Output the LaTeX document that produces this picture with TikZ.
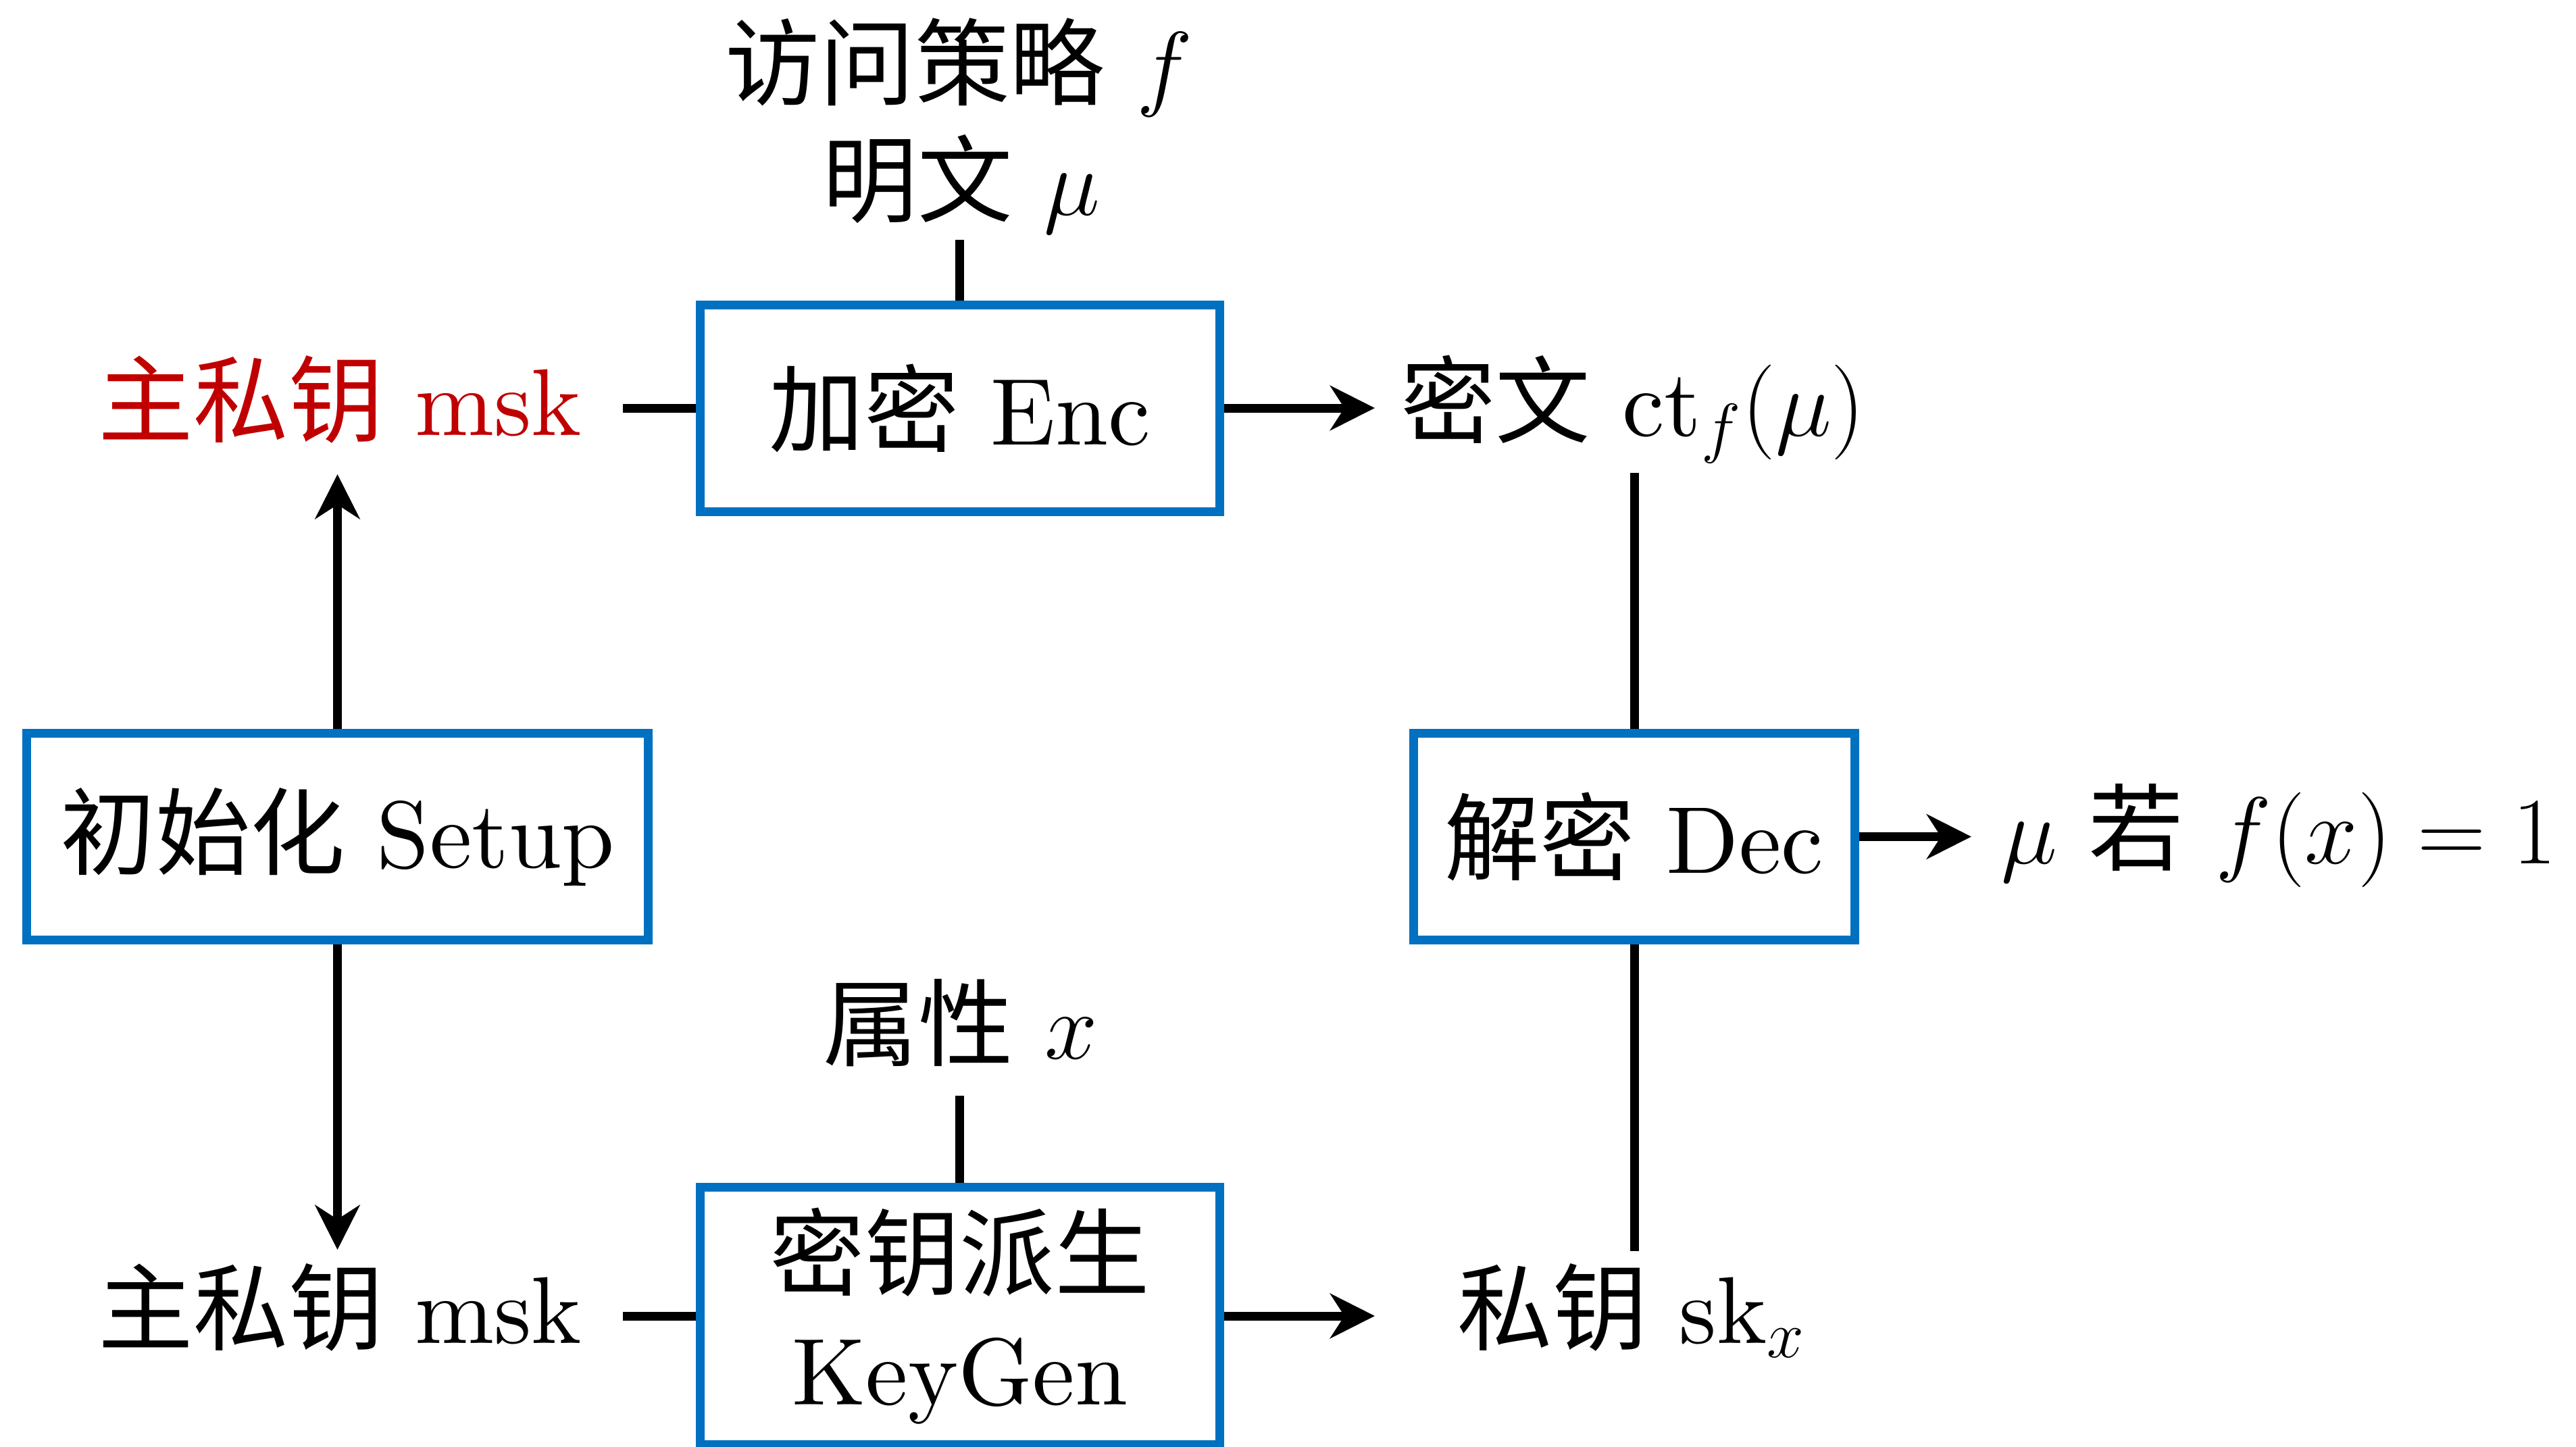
\RequirePackage{fix-cm}
\documentclass[tikz,border=0pt]{standalone}
\usepackage{fontspec}
\setmainfont{lmroman10-regular.otf}
\newfontfamily\cjk{Noto Sans CJK SC}
\usetikzlibrary{arrows.meta}
\definecolor{boxblue}{RGB}{0,112,192}
\definecolor{mskred}{RGB}{192,0,0}
\newcommand{\zh}[1]{{\cjk #1}}
\begin{document}
\begin{tikzpicture}[
  every node/.style={font=\fontsize{40}{49}\selectfont, inner sep=0pt},
  proc/.style={draw=boxblue, line width=0.13cm, inner sep=0pt, align=center},
  lbl/.style={anchor=base},
  conn/.style={line width=0.13cm},
  arr/.style={conn, -{Stealth[length=6.6mm,width=6.6mm,inset=2.1mm]}}
]
\path[use as bounding box] (0,0) rectangle (38.13,-21.41);

% boxes
\node[proc, minimum width=7.685cm, minimum height=3.06cm] (enc) at (14.2075,-6.04) {\zh{加密} Enc};
\node[proc, minimum width=9.2cm, minimum height=3.06cm] (setup) at (4.995,-12.385) {\zh{初始化} Setup};
\node[proc, minimum width=6.53cm, minimum height=3.06cm] (dec) at (24.19,-12.385) {\zh{解密} Dec};
\node[proc, minimum width=7.685cm, minimum height=3.815cm] (keygen) at (14.2075,-19.48) {\zh{密钥派生}\\KeyGen};

% labels
\node[lbl] (pol) at (14.19,-1.45) {\zh{访问策略} $f$};
\node[lbl] (pt) at (14.23,-3.18) {\zh{明文} $\mu$};
\node[lbl, text=mskred] (mskA) at (5.035,-6.44) {\zh{主私钥} msk};
\node[lbl] (ct) at (24.17,-6.45) {\zh{密文} $\mathrm{ct}_f(\mu)$};
\node[lbl] (res) at (33.73,-12.78) {$\mu$ \zh{若} $f(x) = 1$};
\node[lbl] (attr) at (14.22,-15.67) {\zh{属性} $x$};
\node[lbl] (mskB) at (5.035,-19.88) {\zh{主私钥} msk};
\node[lbl] (sk) at (24.15,-19.88) {\zh{私钥} $\mathrm{sk}_x$};

% connector end points
\coordinate (ptEnd) at (14.2075,-3.55);
\coordinate (mskAEnd) at (9.22,-6.04);
\coordinate (upTip) at (4.995,-7.02);
\coordinate (encTip) at (20.35,-6.04);
\coordinate (ctEnd) at (24.19,-7.00);
\coordinate (downTip) at (4.995,-18.50);
\coordinate (mskBEnd) at (9.22,-19.48);
\coordinate (attrEnd) at (14.2075,-16.22);
\coordinate (kgTip) at (20.35,-19.48);
\coordinate (skEnd) at (24.19,-18.52);
\coordinate (decTip) at (29.18,-12.385);

% connectors
\draw[conn] (ptEnd) -- (enc.north);
\draw[conn] (mskAEnd) -- (enc.west);
\draw[arr] (setup.north) -- (upTip);
\draw[arr] (enc.east) -- (encTip);
\draw[conn] (ctEnd) -- (dec.north);
\draw[arr] (setup.south) -- (downTip);
\draw[conn] (mskBEnd) -- (keygen.west);
\draw[conn] (attrEnd) -- (keygen.north);
\draw[arr] (keygen.east) -- (kgTip);
\draw[conn] (dec.south) -- (skEnd);
\draw[arr] (dec.east) -- (decTip);
\end{tikzpicture}
\end{document}
